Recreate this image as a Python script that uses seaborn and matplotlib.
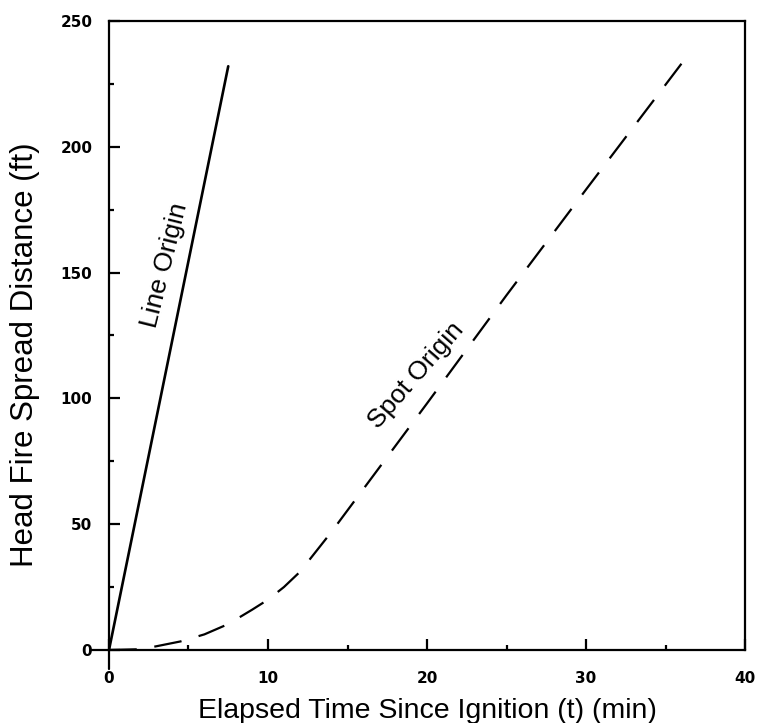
import pandas as pd
import matplotlib
matplotlib.use('Agg')
import matplotlib.pyplot as plt
from matplotlib.ticker import MultipleLocator
import seaborn as sns

# data
line_t = [0, 7.5]
line_d = [0, 232]

spot_t = [0, 2, 3, 4.5, 6, 7.5, 9, 10, 11, 12, 13, 14, 16, 20, 25, 30, 36]
spot_d = [0, 0.3, 1.5, 3.4, 6.2, 10.3, 16, 20, 25, 31, 39, 47, 64, 98, 141, 183, 233]

x_ticks = [0, 10, 20, 30, 40]
y_ticks = [0, 50, 100, 150, 200, 250]

sns.set_theme(style='ticks')
plt.rcParams['font.family'] = ['Liberation Sans', 'DejaVu Sans']
plt.rcParams['text.color'] = 'black'
plt.rcParams['axes.labelcolor'] = 'black'
plt.rcParams['xtick.color'] = 'black'
plt.rcParams['ytick.color'] = 'black'

line_df = pd.DataFrame({'t': line_t, 'd': line_d})
spot_df = pd.DataFrame({'t': spot_t, 'd': spot_d})

fig = plt.figure(figsize=(7.59, 7.23), dpi=100)
ax = fig.add_axes([0.1436, 0.1010, 0.8380, 0.8700])

sns.lineplot(data=line_df, x='t', y='d', color='black', linewidth=1.9, ax=ax)
sns.lineplot(data=spot_df, x='t', y='d', color='black', linewidth=1.6,
             linestyle=(0, (12.5, 8)), ax=ax)

ax.set_xlim(0, 40)
ax.set_ylim(0, 250)
ax.set_xticks(x_ticks)
ax.set_yticks(y_ticks)
ax.xaxis.set_minor_locator(MultipleLocator(5))
ax.yaxis.set_minor_locator(MultipleLocator(25))

for side in ['left', 'right', 'top', 'bottom']:
    ax.spines[side].set_visible(True)
    ax.spines[side].set_linewidth(1.6)
    ax.spines[side].set_color('black')

ax.tick_params(which='major', direction='in', length=8, width=1.6, color='black',
               labelcolor='black')
ax.tick_params(which='minor', direction='in', length=3.5, width=1.6, color='black')
ax.tick_params(axis='x', which='major', pad=15)
ax.tick_params(axis='y', which='major', pad=12)
for lab in ax.get_xticklabels() + ax.get_yticklabels():
    lab.set_fontweight('bold')
    lab.set_fontsize(11)
    lab.set_family(['DejaVu Sans'])

# short axis extensions past the origin
ax.axvline(0, ymin=-0.03, ymax=0, color='black', linewidth=1.6, clip_on=False)
ax.axhline(0, xmin=-0.03, xmax=0, color='black', linewidth=1.6, clip_on=False)

ax.set_xlabel('Elapsed Time Since Ignition (t) (min)', fontsize=20.5, labelpad=9,
              color='black')
ax.set_ylabel('Head Fire Spread Distance (ft)', fontsize=22.5, color='black')
ax.yaxis.set_label_coords(-0.108, 0.47)

ax.text(3.5, 153, 'Line Origin', fontsize=19, rotation=76,
        rotation_mode='anchor', ha='center', va='center', color='black')
ax.text(19.3, 109, 'Spot Origin', fontsize=19, rotation=49,
        rotation_mode='anchor', ha='center', va='center', color='black')

fig.savefig('out.png', dpi=100)
